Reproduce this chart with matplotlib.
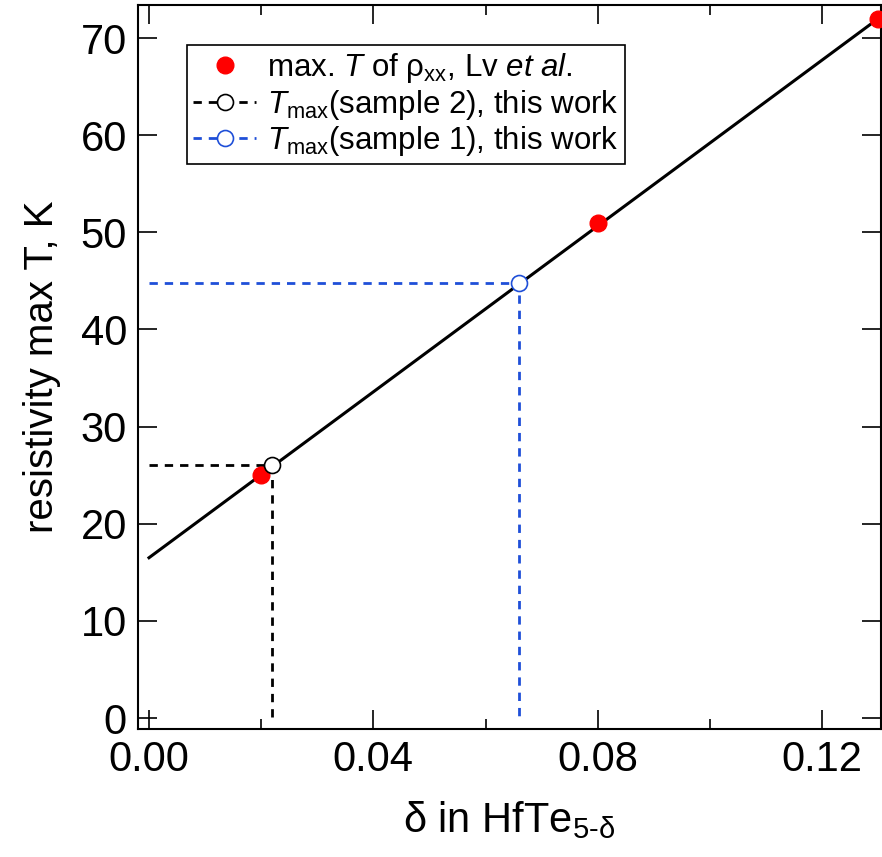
import matplotlib
matplotlib.use("Agg")
import matplotlib.pyplot as plt
from matplotlib.ticker import MultipleLocator

# data
lv_delta = [0.02, 0.08, 0.13]
lv_tmax = [25.0, 51.0, 72.0]
s2_delta = 0.022
s2_tmax = 26.0
s1_delta = 0.066
s1_tmax = 44.8
fit_delta = [0.0, 0.13]
fit_tmax = [16.5, 72.0]
xticks = [0.00, 0.04, 0.08, 0.12]
yticks = [0, 10, 20, 30, 40, 50, 60, 70]

plt.rcParams['font.family'] = ['Liberation Sans', 'DejaVu Sans']
plt.rcParams['mathtext.fontset'] = 'custom'
plt.rcParams['mathtext.rm'] = 'Liberation Sans'
plt.rcParams['mathtext.it'] = 'Liberation Sans:italic'

blue = '#1f4fd8'

fig = plt.figure(figsize=(8.82, 8.57), dpi=100)
ax = fig.add_axes([138/882, 1-729/857, 743/882, 724/857])

ax.plot(fit_delta, fit_tmax, color='black', lw=2.2, zorder=2)

# guide lines to the axes
ax.plot([0, s2_delta, s2_delta], [s2_tmax, s2_tmax, 0], color='black', lw=2,
        ls=(0, (3, 2.5)), zorder=1)
ax.plot([0, s1_delta, s1_delta], [s1_tmax, s1_tmax, 0], color=blue, lw=2,
        ls=(0, (3, 2.5)), zorder=1)

ax.plot(lv_delta, lv_tmax, 'o', color='red', ms=12, mec='red', zorder=3, clip_on=False)
ax.plot([s2_delta], [s2_tmax], 'o', mfc='white', mec='black', ms=11.5, mew=1.2, zorder=4)
ax.plot([s1_delta], [s1_tmax], 'o', mfc='white', mec=blue, ms=11.5, mew=1.2, zorder=4)

# legend proxies
h1, = ax.plot([], [], 'o', color='red', ms=12)
h2, = ax.plot([], [], color='black', lw=2, ls=(0, (3, 2.5)), marker='o', mfc='white',
              mec='black', ms=11.5, mew=1.2)
h3, = ax.plot([], [], color=blue, lw=2, ls=(0, (3, 2.5)), marker='o', mfc='white',
              mec=blue, ms=11.5, mew=1.2)
leg = ax.legend([h1, h2, h3],
                [r"max. $T$ of ρ$_\mathrm{xx}$, Lv $\mathit{et\ al.}$",
                 r"$T_\mathrm{max}$(sample 2), this work",
                 r"$T_\mathrm{max}$(sample 1), this work"],
                loc='upper left', bbox_to_anchor=(0.066, 0.945), fontsize=22.5,
                frameon=True, fancybox=False, edgecolor='black', framealpha=1,
                handlelength=2.0, handletextpad=0.35, borderpad=0.2, labelspacing=0.08,
                borderaxespad=0)
leg.get_frame().set_linewidth(1.2)

ax.set_xlim(-0.00196, 0.1305)
ax.set_ylim(-1.13, 73.4)
ax.set_xticks(xticks)
ax.set_xticklabels([f"{t:.2f}" for t in xticks])
ax.set_yticks(yticks)
ax.xaxis.set_minor_locator(MultipleLocator(0.02))
ax.tick_params(which='both', direction='in', top=True, right=True, width=1.2,
               labelsize=30, pad=8)
ax.tick_params(which='major', length=14)
ax.tick_params(which='minor', length=7)
for s in ax.spines.values():
    s.set_linewidth(1.5)

ax.set_xlabel(r"δ in HfTe$_{\text{5-δ}}$", fontsize=30, labelpad=14)
ax.set_ylabel("resistivity max T, K", fontsize=29, labelpad=14)

fig.savefig("out.png", dpi=100)
